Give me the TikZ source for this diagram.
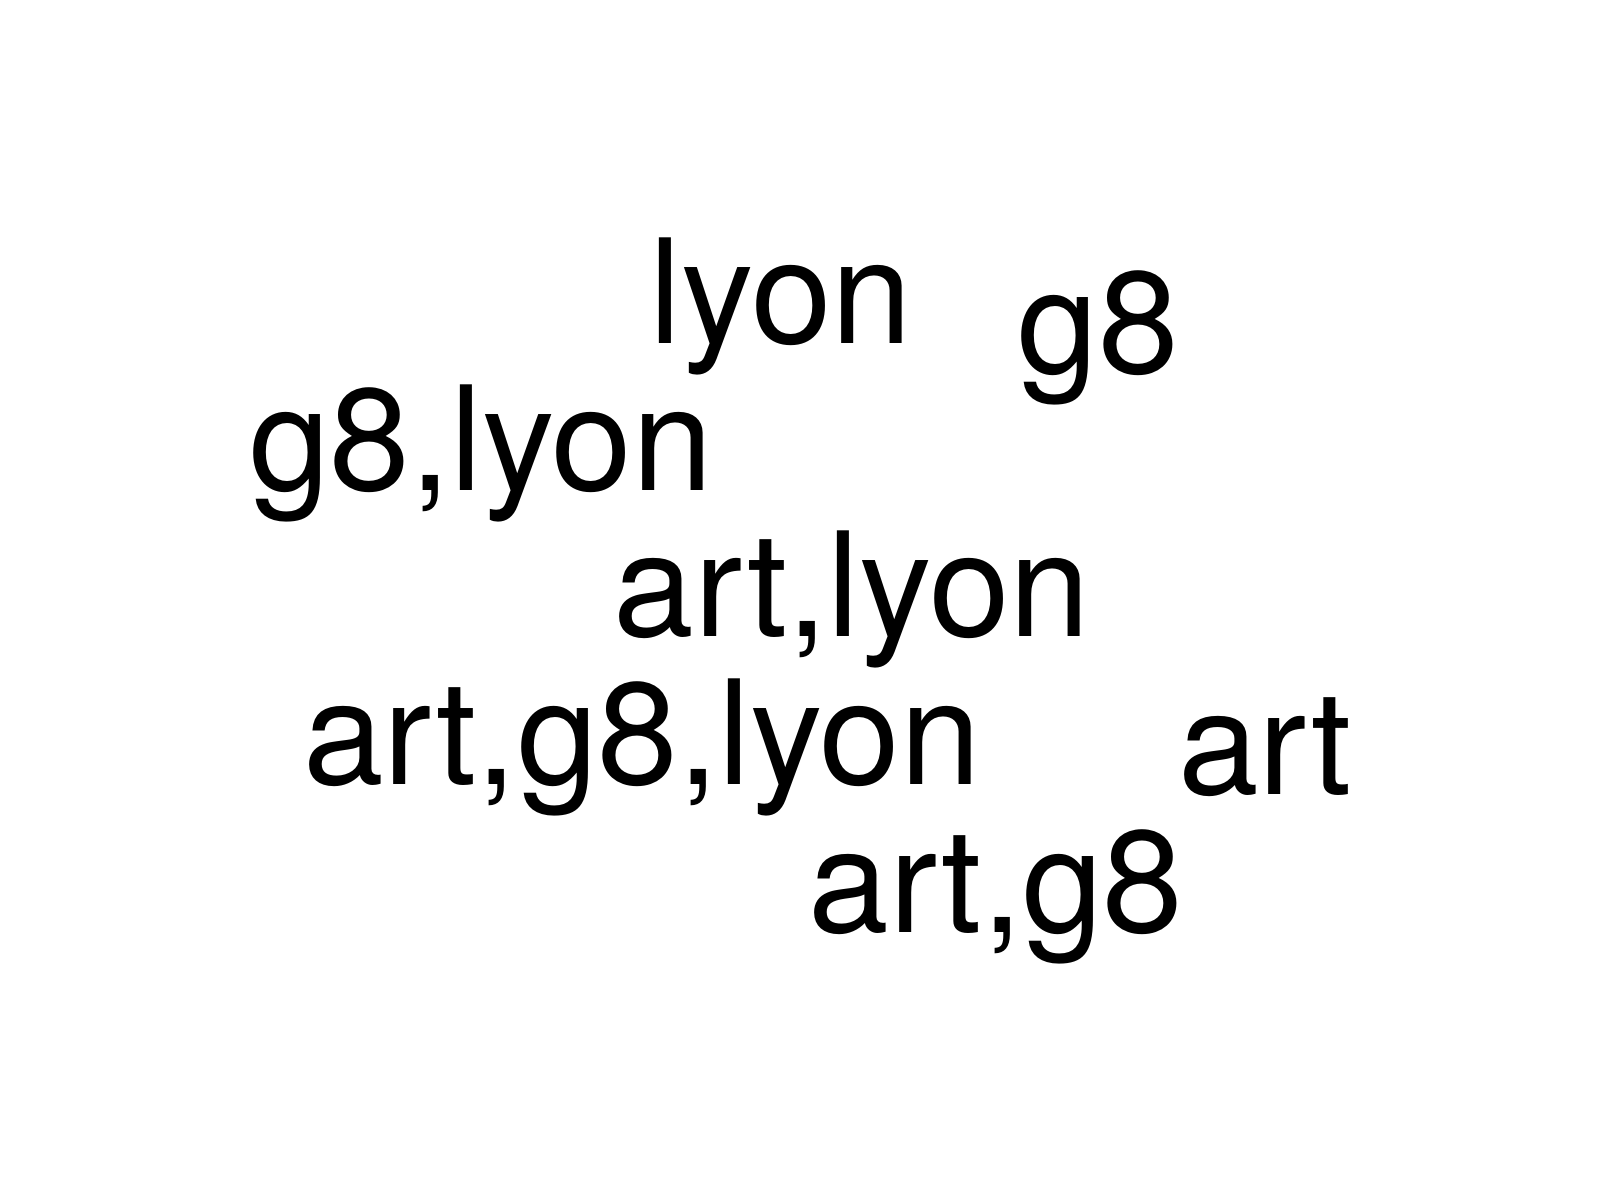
\documentclass[tikz,border=0pt]{standalone}
\usepackage{fontspec}
\setmainfont{TeX Gyre Heros}
\begin{document}
\begin{tikzpicture}[x=0.5pt,y=-0.5pt,
  word/.style={anchor=base,inner sep=0pt,font=\fontsize{72.5}{80}\selectfont,text=black}]
\useasboundingbox[fill=white] (0,0) rectangle (1600,1200);
\node[word] (w1) at (781,343) {lyon};
\node[word] (w2) at (1098,373) {g8};
\node[word] (w3) at (481,490) {g8,lyon};
\node[word] (w4) at (852,636) {art,lyon};
\node[word] (w5) at (642,784) {art,g8,lyon};
\node[word] (w6) at (1265,794) {art};
\node[word] (w7) at (996,932) {art,g8};
\end{tikzpicture}
\end{document}
